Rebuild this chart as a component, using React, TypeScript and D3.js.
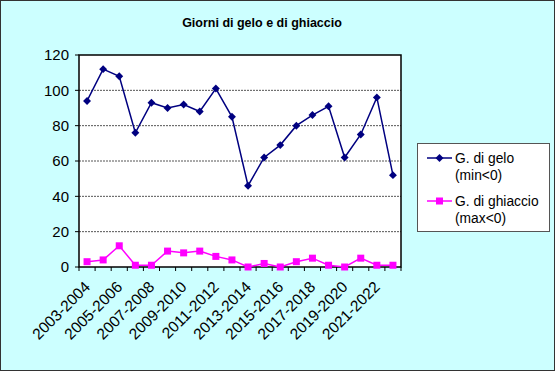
import React from "react";
import * as d3 from "d3";

const seasons = [
  "2003-2004", "2004-2005", "2005-2006", "2006-2007", "2007-2008",
  "2008-2009", "2009-2010", "2010-2011", "2011-2012", "2012-2013",
  "2013-2014", "2014-2015", "2015-2016", "2016-2017", "2017-2018",
  "2018-2019", "2019-2020", "2020-2021", "2021-2022", "2022-2023",
];
const gelo = [94, 112, 108, 76, 93, 90, 92, 88, 101, 85, 46, 62, 69, 80, 86, 91, 62, 75, 96, 52];
const ghiaccio = [3, 4, 12, 1, 1, 9, 8, 9, 6, 4, 0, 2, 0, 3, 5, 1, 0, 5, 1, 1];
const yTicks = [0, 20, 40, 60, 80, 100, 120];

const W = 555, H = 371;
const plot = { left: 79, right: 401, top: 55, bottom: 267 };
const font = "Arial, 'Liberation Sans', sans-serif";

export default function App() {
  const x = d3.scaleBand().domain(seasons).range([plot.left, plot.right]);
  const y = d3.scaleLinear().domain([0, 120]).range([plot.bottom, plot.top]);
  const cx = (s: string) => (x(s) ?? 0) + x.bandwidth() / 2;

  const line = d3.line<number>()
    .x((_, i) => cx(seasons[i]))
    .y((d) => y(d));

  const diamond = d3.symbol().type(d3.symbolDiamond2).size(40)() ?? "";

  return (
    <svg width={W} height={H} style={{ position: "absolute", left: 0, top: 0 }} fontFamily={font}>
      <rect x={0.5} y={0.5} width={W - 1} height={H - 1} fill="#CCFFFF" stroke="#333" strokeWidth={1} />
      <text x={262} y={27} textAnchor="middle" fontSize={12.5} fontWeight="bold" fill="#000">
        Giorni di gelo e di ghiaccio
      </text>

      <rect x={plot.left} y={plot.top} width={plot.right - plot.left} height={plot.bottom - plot.top} fill="#fff" />
      {yTicks.slice(1, -1).map((t) => (
        <line key={t} x1={plot.left} x2={plot.right} y1={y(t)} y2={y(t)} stroke="#555" strokeDasharray="2,1" strokeWidth={1} />
      ))}
      <rect x={plot.left} y={plot.top} width={plot.right - plot.left} height={plot.bottom - plot.top} fill="none" stroke="#000" strokeWidth={1.5} />

      {yTicks.map((t) => (
        <g key={t}>
          <line x1={plot.left - 4} x2={plot.left} y1={y(t)} y2={y(t)} stroke="#000" />
          <text x={plot.left - 10} y={y(t)} dy="0.36em" textAnchor="end" fontSize={15} fill="#000">{t}</text>
        </g>
      ))}

      {seasons.map((s) => (
        <line key={s} x1={x(s) ?? 0} x2={x(s) ?? 0} y1={plot.bottom} y2={plot.bottom + 4} stroke="#000" />
      ))}
      <line x1={plot.right} x2={plot.right} y1={plot.bottom} y2={plot.bottom + 4} stroke="#000" />

      {seasons.map((s, i) =>
        i % 2 === 0 ? (
          <text
            key={s}
            transform={`translate(${cx(s) + 4},${plot.bottom + 21}) rotate(-45)`}
            textAnchor="end"
            fontSize={15.5}
            fill="#000"
          >
            {s}
          </text>
        ) : null
      )}

      <path d={line(gelo) ?? ""} fill="none" stroke="#000080" strokeWidth={1.5} />
      {gelo.map((v, i) => (
        <path key={i} d={diamond} transform={`translate(${cx(seasons[i])},${y(v)})`} fill="#000080" />
      ))}

      <path d={line(ghiaccio) ?? ""} fill="none" stroke="#FF00FF" strokeWidth={1.5} />
      {ghiaccio.map((v, i) => (
        <rect key={i} x={cx(seasons[i]) - 3.5} y={y(v) - 3.5} width={7} height={7} fill="#FF00FF" />
      ))}

      <g>
        <rect x={417.5} y={143.5} width={132} height={88} fill="#fff" stroke="#555" />
        <line x1={427} x2={452} y1={158} y2={158} stroke="#000080" strokeWidth={1.5} />
        <path d={diamond} transform="translate(439.5,158)" fill="#000080" />
        <text x={455} y={158} dy="0.36em" fontSize={13.8} fill="#000">G. di gelo</text>
        <text x={455} y={175} dy="0.36em" fontSize={13.8} fill="#000">(min&lt;0)</text>
        <line x1={427} x2={452} y1={201} y2={201} stroke="#FF00FF" strokeWidth={1.5} />
        <rect x={436} y={197.5} width={7} height={7} fill="#FF00FF" />
        <text x={455} y={201} dy="0.36em" fontSize={13.8} fill="#000">G. di ghiaccio</text>
        <text x={455} y={218} dy="0.36em" fontSize={13.8} fill="#000">(max&lt;0)</text>
      </g>
    </svg>
  );
}
